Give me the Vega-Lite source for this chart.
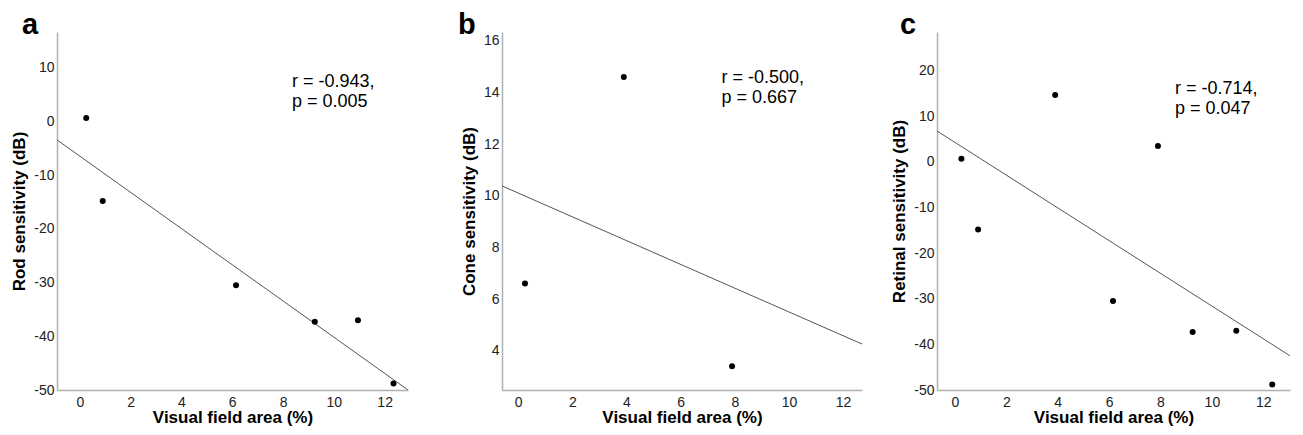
{
  "$schema": "https://vega.github.io/schema/vega-lite/v6.json",
  "padding": {"left": 10, "top": 11, "right": 5, "bottom": 5},
  "background": "white",
  "bounds": "flush",
  "spacing": 94,
  "config": {
    "font": "Liberation Sans",
    "view": {"stroke": null},
    "axis": {
      "grid": false,
      "ticks": false,
      "domainColor": "#b0b0b0",
      "domainWidth": 1.5,
      "labelFont": "Liberation Sans",
      "labelFontSize": 14,
      "labelColor": "#222222",
      "labelExpr": "replace(datum.label, '\u2212', '-')",
      "titleFont": "Liberation Sans",
      "titleFontSize": 17,
      "titleFontWeight": "bold",
      "titleColor": "#000000"
    },
    "axisX": {"labelPadding": 5, "titlePadding": 0},
    "axisY": {"labelPadding": 3, "titlePadding": 5},
    "title": {"anchor": "start", "frame": "group", "fontSize": 29, "fontWeight": "bold", "font": "Liberation Sans", "baseline": "alphabetic", "offset": 0, "color": "#000000"}
  },
  "datasets": {
    "pointsA": [
      {"area": 0.25, "sens": 0.7},
      {"area": 0.9, "sens": -14.8},
      {"area": 6.15, "sens": -30.5},
      {"area": 9.25, "sens": -37.3},
      {"area": 10.95, "sens": -37.0},
      {"area": 12.35, "sens": -48.8}
    ],
    "lineA": [
      {"area": -0.9, "sens": -3.4},
      {"area": 12.92, "sens": -50.0}
    ],
    "textA": [
      {"area": 8.35, "sens": 7.3, "label": "r = -0.943,"},
      {"area": 8.35, "sens": 3.6, "label": "p = 0.005"}
    ],
    "pointsB": [
      {"area": 0.25, "sens": 6.6},
      {"area": 3.9, "sens": 14.6},
      {"area": 7.9, "sens": 3.4}
    ],
    "lineB": [
      {"area": -0.6, "sens": 10.38},
      {"area": 12.7, "sens": 4.26}
    ],
    "textB": [
      {"area": 7.51, "sens": 14.55, "label": "r = -0.500,"},
      {"area": 7.51, "sens": 13.8, "label": "p = 0.667"}
    ],
    "pointsC": [
      {"area": 0.25, "sens": 0.7},
      {"area": 0.9, "sens": -14.8},
      {"area": 3.9, "sens": 14.7},
      {"area": 6.15, "sens": -30.5},
      {"area": 7.9, "sens": 3.5},
      {"area": 9.25, "sens": -37.3},
      {"area": 10.95, "sens": -37.0},
      {"area": 12.35, "sens": -48.8}
    ],
    "lineC": [
      {"area": -0.7, "sens": 6.8},
      {"area": 13.04, "sens": -42.5}
    ],
    "textC": [
      {"area": 8.56, "sens": 16.0, "label": "r = -0.714,"},
      {"area": 8.56, "sens": 11.6, "label": "p = 0.047"}
    ]
  },
  "hconcat": [
    {
      "width": 351,
      "height": 358,
      "title": {"text": "a", "dx": -35, "dy": 12},
      "encoding": {
        "x": {"field": "area", "type": "quantitative", "scale": {"domain": [-0.9, 12.92], "nice": false, "zero": false}, "axis": {"values": [0, 2, 4, 6, 8, 10, 12], "title": "Visual field area (%)"}},
        "y": {"field": "sens", "type": "quantitative", "scale": {"domain": [-50, 16.7], "nice": false, "zero": false}, "axis": {"values": [-50, -40, -30, -20, -10, 0, 10], "title": "Rod sensitivity (dB)"}}
      },
      "layer": [
        {"data": {"name": "lineA"}, "mark": {"type": "line", "color": "#555555", "strokeWidth": 1, "clip": true}},
        {"data": {"name": "pointsA"}, "mark": {"type": "circle", "color": "#000000", "size": 36, "opacity": 1}},
        {"data": {"name": "textA"}, "mark": {"type": "text", "align": "left", "baseline": "middle", "fontSize": 18, "color": "#000000"}, "encoding": {"text": {"field": "label"}}}
      ]
    },
    {
      "bounds": "flush",
      "spacing": 75,
      "hconcat": [
        {
          "width": 360,
          "height": 358,
          "title": {"text": "b", "dx": -44, "dy": 12},
          "encoding": {
            "x": {"field": "area", "type": "quantitative", "scale": {"domain": [-0.6, 12.7], "nice": false, "zero": false}, "axis": {"values": [0, 2, 4, 6, 8, 10, 12], "title": "Visual field area (%)"}},
            "y": {"field": "sens", "type": "quantitative", "scale": {"domain": [2.48, 16.34], "nice": false, "zero": false}, "axis": {"values": [4, 6, 8, 10, 12, 14, 16], "title": "Cone sensitivity (dB)"}}
          },
          "layer": [
            {"data": {"name": "lineB"}, "mark": {"type": "line", "color": "#555555", "strokeWidth": 1, "clip": true}},
            {"data": {"name": "pointsB"}, "mark": {"type": "circle", "color": "#000000", "size": 36, "opacity": 1}},
            {"data": {"name": "textB"}, "mark": {"type": "text", "align": "left", "baseline": "middle", "fontSize": 18, "color": "#000000"}, "encoding": {"text": {"field": "label"}}}
          ]
        },
        {
          "width": 353,
          "height": 358,
          "title": {"text": "c", "dx": -37, "dy": 12},
          "encoding": {
            "x": {"field": "area", "type": "quantitative", "scale": {"domain": [-0.7, 13.04], "nice": false, "zero": false}, "axis": {"values": [0, 2, 4, 6, 8, 10, 12], "title": "Visual field area (%)"}},
            "y": {"field": "sens", "type": "quantitative", "scale": {"domain": [-50, 28.5], "nice": false, "zero": false}, "axis": {"values": [-50, -40, -30, -20, -10, 0, 10, 20], "title": "Retinal sensitivity (dB)"}}
          },
          "layer": [
            {"data": {"name": "lineC"}, "mark": {"type": "line", "color": "#555555", "strokeWidth": 1, "clip": true}},
            {"data": {"name": "pointsC"}, "mark": {"type": "circle", "color": "#000000", "size": 36, "opacity": 1}},
            {"data": {"name": "textC"}, "mark": {"type": "text", "align": "left", "baseline": "middle", "fontSize": 18, "color": "#000000"}, "encoding": {"text": {"field": "label"}}}
          ]
        }
      ]
    }
  ]
}
